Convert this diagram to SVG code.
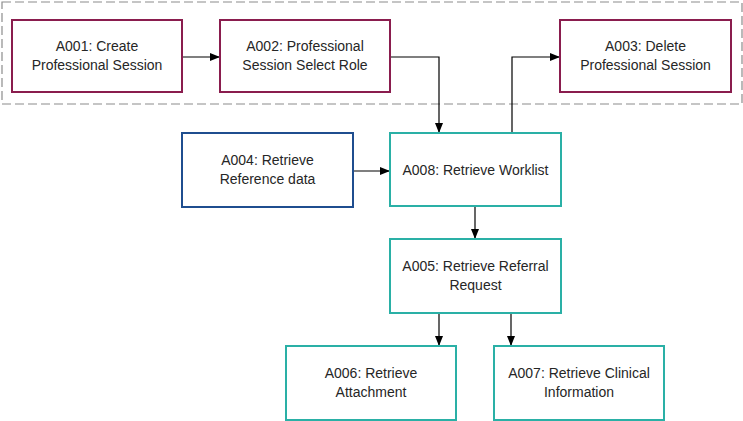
<svg xmlns="http://www.w3.org/2000/svg" width="743" height="421" viewBox="0 0 743 421">
<style>
.box{fill:#fff;stroke-width:2}
.m{stroke:#8A1D4E}
.b{stroke:#1F4E8F}
.t{stroke:#2AB0A6}
text{font-family:"Liberation Sans",Arial,sans-serif;font-size:14px;fill:#262626;text-anchor:middle}
.c{fill:none;stroke:#000;stroke-width:1.2;marker-end:url(#ah)}
</style>
<defs>
<marker id="ah" viewBox="0 0 10 8" refX="10" refY="4" markerWidth="10" markerHeight="8" markerUnits="userSpaceOnUse" orient="auto">
<path d="M0,0 L10,4 L0,8 Z" fill="#000"/>
</marker>
</defs>
<rect x="2" y="2" width="740" height="102" fill="none" stroke="#8C8C8C" stroke-width="1.2" stroke-dasharray="9,4"/>
<g id="connectors">
<path class="c" d="M182,57 H220"/>
<path class="c" d="M390,57 H439 V133"/>
<path class="c" d="M512,133 V57 H560"/>
<path class="c" d="M353,171 H390"/>
<path class="c" d="M475,206 V239"/>
<path class="c" d="M439,313 V346"/>
<path class="c" d="M511,313 V346"/>
</g>
<g id="A001"><rect class="box m" x="12" y="20" width="170" height="72"/><text x="97" y="51">A001: Create</text><text x="97" y="70">Professional Session</text></g>
<g id="A002"><rect class="box m" x="220" y="20" width="170" height="72"/><text x="305" y="51">A002: Professional</text><text x="305" y="70">Session Select Role</text></g>
<g id="A003"><rect class="box m" x="560" y="20" width="171" height="72"/><text x="645.5" y="51">A003: Delete</text><text x="645.5" y="70">Professional Session</text></g>
<g id="A004"><rect class="box b" x="182" y="133" width="171" height="74"/><text x="267.5" y="165">A004: Retrieve</text><text x="267.5" y="184">Reference data</text></g>
<g id="A008"><rect class="box t" x="390" y="133" width="171" height="73"/><text x="475.5" y="175">A008: Retrieve Worklist</text></g>
<g id="A005"><rect class="box t" x="390" y="239" width="171" height="74"/><text x="475.5" y="271">A005: Retrieve Referral</text><text x="475.5" y="290">Request</text></g>
<g id="A006"><rect class="box t" x="286" y="346" width="170" height="74"/><text x="371" y="378">A006: Retrieve</text><text x="371" y="397">Attachment</text></g>
<g id="A007"><rect class="box t" x="494" y="346" width="170" height="74"/><text x="579" y="378">A007: Retrieve Clinical</text><text x="579" y="397">Information</text></g>
</svg>
